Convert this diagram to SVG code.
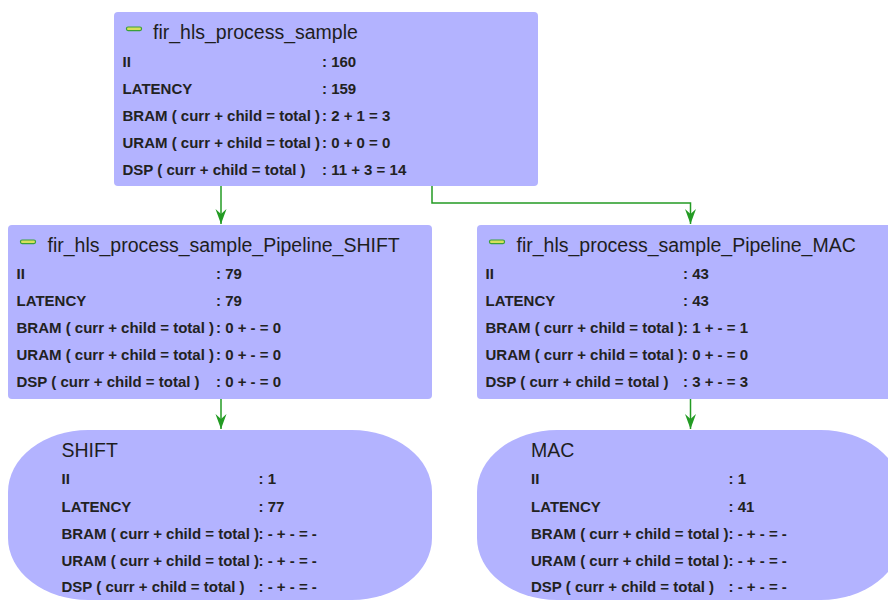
<svg xmlns="http://www.w3.org/2000/svg" width="888" height="601" viewBox="0 0 888 601">
<style>
.box{fill:#b3b3ff;}
.ttl{font-family:"Liberation Sans",Arial,sans-serif;font-size:19.5px;fill:#1e1e1e;}
.row{font-family:"Liberation Sans",Arial,sans-serif;font-size:15px;font-weight:bold;fill:#222;}
.icon{fill:#d7e05a;stroke:#3aa03a;stroke-width:1.2;}
.edge{fill:none;stroke:#239b23;stroke-width:1.5;}
</style>
<defs>
<marker id="arr" markerUnits="userSpaceOnUse" viewBox="-16 -7 17 14" refX="0" refY="0" markerWidth="17" markerHeight="14" orient="auto">
<path d="M0,0 L-15,-5.5 L-10,0 L-15,5.5 Z" fill="#239b23"/>
</marker>
</defs>
<rect width="888" height="601" fill="#ffffff"/>

<g id="connectors">
<path class="edge" d="M221,186 L221,224" marker-end="url(#arr)"/>
<path class="edge" d="M432,186 L432,203 L690.5,203 L690.5,224" marker-end="url(#arr)"/>
<path class="edge" d="M221,399 L221,429" marker-end="url(#arr)"/>
<path class="edge" d="M690.5,399 L690.5,429" marker-end="url(#arr)"/>
</g>

<g id="fir_hls_process_sample">
<rect class="box" x="114" y="12" width="424" height="174" rx="4"/>
<rect class="icon" x="126.5" y="27" width="15" height="3.6" rx="1.5"/>
<text class="ttl" x="153" y="39">fir_hls_process_sample</text>
<text class="row" x="122.5" y="66.5">II</text><text class="row" x="322" y="66.5">: 160</text>
<text class="row" x="122.5" y="93.7">LATENCY</text><text class="row" x="322" y="93.7">: 159</text>
<text class="row" x="122.5" y="121">BRAM ( curr + child = total )</text><text class="row" x="322" y="121">: 2 + 1 = 3</text>
<text class="row" x="122.5" y="148">URAM ( curr + child = total )</text><text class="row" x="322" y="148">: 0 + 0 = 0</text>
<text class="row" x="122.5" y="175">DSP ( curr + child = total )</text><text class="row" x="322" y="175">: 11 + 3 = 14</text>
</g>

<g id="fir_hls_process_sample_Pipeline_SHIFT">
<rect class="box" x="8" y="225" width="424" height="174" rx="4"/>
<rect class="icon" x="20.5" y="240" width="15" height="3.6" rx="1.5"/>
<text class="ttl" x="47.5" y="251.7">fir_hls_process_sample_Pipeline_SHIFT</text>
<text class="row" x="16.5" y="279">II</text><text class="row" x="216" y="279">: 79</text>
<text class="row" x="16.5" y="306">LATENCY</text><text class="row" x="216" y="306">: 79</text>
<text class="row" x="16.5" y="333.3">BRAM ( curr + child = total )</text><text class="row" x="216" y="333.3">: 0 + - = 0</text>
<text class="row" x="16.5" y="360">URAM ( curr + child = total )</text><text class="row" x="216" y="360">: 0 + - = 0</text>
<text class="row" x="16.5" y="386.7">DSP ( curr + child = total )</text><text class="row" x="216" y="386.7">: 0 + - = 0</text>
</g>

<g id="fir_hls_process_sample_Pipeline_MAC">
<rect class="box" x="477" y="225" width="424" height="174" rx="4"/>
<rect class="icon" x="489.5" y="240" width="15" height="3.6" rx="1.5"/>
<text class="ttl" x="516.5" y="251.7">fir_hls_process_sample_Pipeline_MAC</text>
<text class="row" x="485.5" y="279">II</text><text class="row" x="683" y="279">: 43</text>
<text class="row" x="485.5" y="306">LATENCY</text><text class="row" x="683" y="306">: 43</text>
<text class="row" x="485.5" y="333.3">BRAM ( curr + child = total )</text><text class="row" x="683" y="333.3">: 1 + - = 1</text>
<text class="row" x="485.5" y="360">URAM ( curr + child = total )</text><text class="row" x="683" y="360">: 0 + - = 0</text>
<text class="row" x="485.5" y="386.7">DSP ( curr + child = total )</text><text class="row" x="683" y="386.7">: 3 + - = 3</text>
</g>

<g id="SHIFT">
<rect class="box" x="8" y="430" width="424" height="170" rx="80" ry="62"/>
<text class="ttl" x="61.5" y="457.3">SHIFT</text>
<text class="row" x="61.5" y="484.3">II</text><text class="row" x="258.5" y="484.3">: 1</text>
<text class="row" x="61.5" y="511.5">LATENCY</text><text class="row" x="258.5" y="511.5">: 77</text>
<text class="row" x="61.5" y="538.5">BRAM ( curr + child = total )</text><text class="row" x="258.5" y="538.5">: - + - = -</text>
<text class="row" x="61.5" y="565.5">URAM ( curr + child = total )</text><text class="row" x="258.5" y="565.5">: - + - = -</text>
<text class="row" x="61.5" y="592.3">DSP ( curr + child = total )</text><text class="row" x="258.5" y="592.3">: - + - = -</text>
</g>

<g id="MAC">
<rect class="box" x="477" y="430" width="424" height="170" rx="80" ry="62"/>
<text class="ttl" x="531" y="457.3">MAC</text>
<text class="row" x="531" y="484.3">II</text><text class="row" x="728.5" y="484.3">: 1</text>
<text class="row" x="531" y="511.5">LATENCY</text><text class="row" x="728.5" y="511.5">: 41</text>
<text class="row" x="531" y="538.5">BRAM ( curr + child = total )</text><text class="row" x="728.5" y="538.5">: - + - = -</text>
<text class="row" x="531" y="565.5">URAM ( curr + child = total )</text><text class="row" x="728.5" y="565.5">: - + - = -</text>
<text class="row" x="531" y="592.3">DSP ( curr + child = total )</text><text class="row" x="728.5" y="592.3">: - + - = -</text>
</g>
</svg>
